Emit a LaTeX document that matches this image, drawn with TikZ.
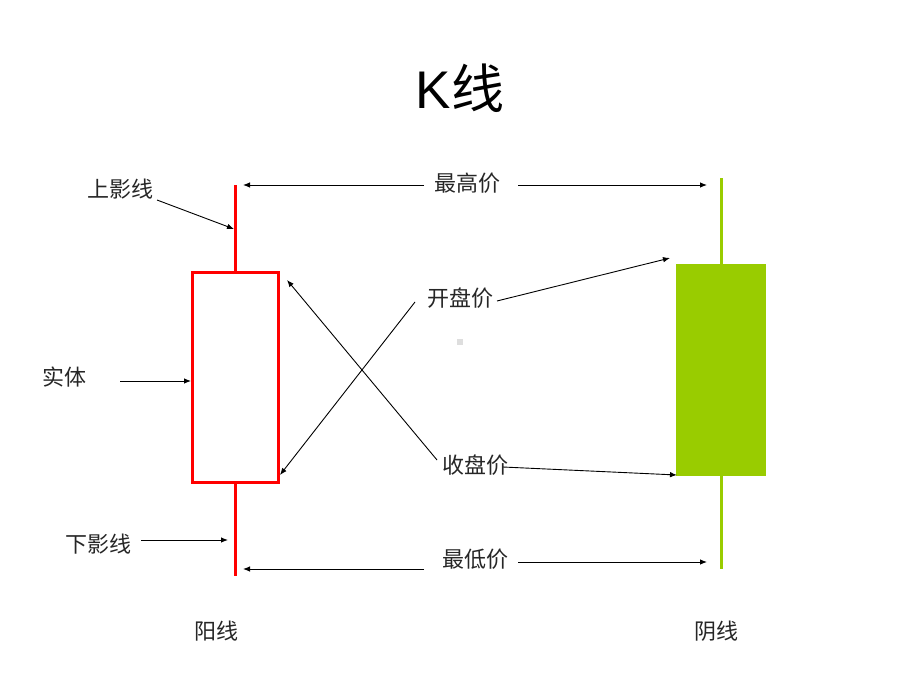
\documentclass[tikz,border=0pt]{standalone}
\usepackage{fontspec}
\newfontfamily\cjk{Noto Sans CJK SC}
\newfontfamily\latin{Liberation Sans}
\usetikzlibrary{arrows.meta}
\definecolor{kred}{HTML}{FF0000}
\definecolor{kgreen}{HTML}{99CC00}
\tikzset{
  lbl/.style={font=\cjk\fontsize{22}{25}\selectfont, inner sep=1pt, text=black!85},
  arr/.style={draw=black, line width=0.9pt, -{Latex[length=7pt,width=5.5pt]}},
  redline/.style={draw=kred, line width=3pt},
  greenline/.style={draw=kgreen, line width=3pt},
}
\begin{document}
\begin{tikzpicture}[x=1pt,y=-1pt]
\useasboundingbox (0,0) rectangle (920,690);
% title
\node (title) at (460,88) {\fontsize{53}{58}\selectfont\latin K\cjk 线};
% red candle
\coordinate (rtop) at (235,185);
\coordinate (rbot) at (235,576);
\node[redline, minimum width=86pt, minimum height=210pt, inner sep=0pt, fill=white] (rbox) at (235,377) {};
\draw[redline] (rtop) -- (rbox.north);
\draw[redline] (rbox.south) -- (rbot);
% green candle
\coordinate (gtop) at (721,178);
\coordinate (gbot) at (721,569);
\draw[greenline] (gtop) -- (gbot);
\node[fill=kgreen, minimum width=90pt, minimum height=212pt, inner sep=0pt] (gbox) at (721,370) {};
% labels
\node[lbl] (high) at (467,183) {最高价};
\node[lbl] (low) at (475,559) {最低价};
\node[lbl] (open) at (460,298) {开盘价};
\node[lbl] (close) at (475,465) {收盘价};
\node[lbl] (upper) at (120,189) {上影线};
\node[lbl] (body) at (64,377) {实体};
\node[lbl] (lower) at (98,544) {下影线};
\node[lbl] (yang) at (216,631) {阳线};
\node[lbl] (yin) at (716,631) {阴线};
% small grey square
\node[fill=black!13, minimum size=6pt, inner sep=0pt] (dot) at (460,342) {};
% arrows
\coordinate (h1) at (424,185); \coordinate (h1t) at (243,185);
\coordinate (h2) at (518,185); \coordinate (h2t) at (707,185);
\draw[arr] (h1) -- (h1t);
\draw[arr] (h2) -- (h2t);
\coordinate (l1) at (424,569); \coordinate (l1t) at (243,569);
\coordinate (l2) at (518,562); \coordinate (l2t) at (707,562);
\draw[arr] (l1) -- (l1t);
\draw[arr] (l2) -- (l2t);
\coordinate (o1) at (497,301); \coordinate (o1t) at (670,258);
\coordinate (o2) at (415,302); \coordinate (o2t) at (280,475);
\draw[arr] (o1) -- (o1t);
\draw[arr] (o2) -- (o2t);
\coordinate (c1) at (437,460); \coordinate (c1t) at (287,280);
\coordinate (c2) at (503,467); \coordinate (c2t) at (677,475);
\draw[arr] (c1) -- (c1t);
\draw[arr] (c2) -- (c2t);
\coordinate (u1) at (157,200); \coordinate (u1t) at (234,229);
\draw[arr] (u1) -- (u1t);
\coordinate (b1) at (120,381); \coordinate (b1t) at (191,381);
\draw[arr] (b1) -- (b1t);
\coordinate (d1) at (141,540); \coordinate (d1t) at (228,540);
\draw[arr] (d1) -- (d1t);
\end{tikzpicture}
\end{document}
